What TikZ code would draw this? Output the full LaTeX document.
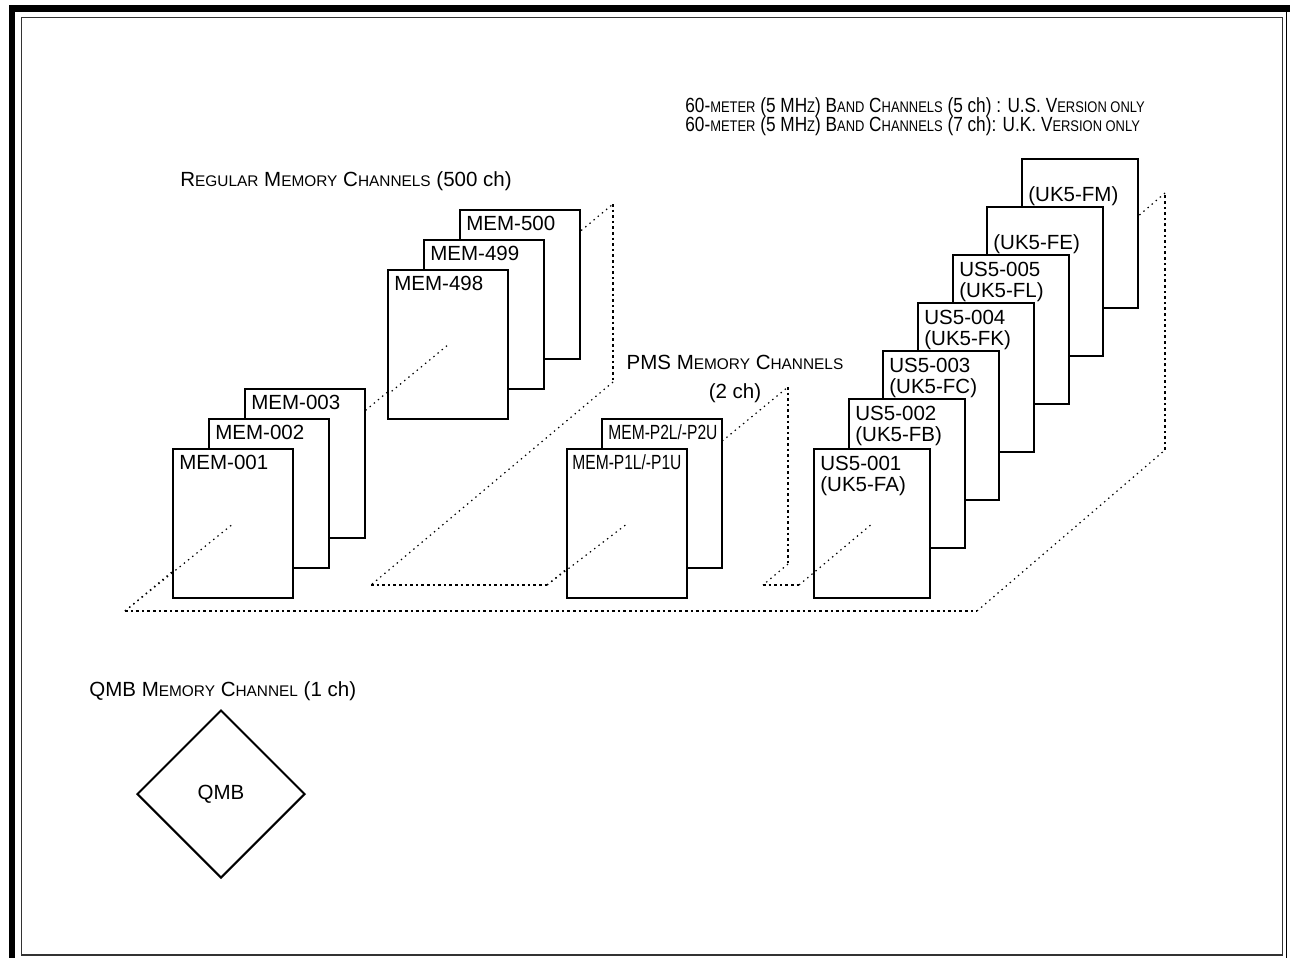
\documentclass[tikz,border=0pt]{standalone}
\usepackage{fontspec}
\setmainfont{Liberation Sans}
\usepackage{graphicx}
\usetikzlibrary{shapes.geometric}

\newcommand{\chsc}[1]{{\fontsize{7.7pt}{9pt}\selectfont #1}}

\begin{document}
\fontsize{10.25pt}{12pt}\selectfont
\begin{tikzpicture}[x=0.5pt,y=-0.5pt,
  chbox/.style={draw,fill=white,line width=1.2pt,inner sep=0pt,anchor=north west,minimum width=60pt,minimum height=74.5pt},
  usbox/.style={chbox,minimum width=58pt},
  chtxt/.style={anchor=base west,inner sep=0pt},
  flat/.style={line width=0.7pt,dash pattern=on 1.3pt off 1.5pt},
  slant/.style={line width=0.6pt,dash pattern=on 0.7pt off 2pt}]
  \useasboundingbox (0,0) rectangle (1290,958);
  % frame
  \fill (9,5) rectangle (1290,12);
  \fill (9,5) rectangle (15,958);
  \draw[line width=0.7pt] (1286.5,12) -- (1286.5,958);
  \draw[line width=0.7pt,black!80] (21.5,17.5) rectangle (1282.5,955);

  \coordinate (S1) at (125,611);
  \coordinate (T1) at (613,204);
  \coordinate (B1) at (613,382);
  \coordinate (F1) at (371,585);
  \coordinate (S2) at (547,585);
  \coordinate (T2) at (788,387);
  \coordinate (B2) at (788,564);
  \coordinate (F2) at (763,585);
  \coordinate (S3) at (799,585);
  \coordinate (T3) at (1165,193);
  \coordinate (B3) at (1165,450);
  \coordinate (F3) at (977,611);

  % dotted floor and walls
  \draw[flat] (S1) -- (F3);
  \draw[slant] (F3) -- (B3);
  \draw[flat] (B3) -- (T3);
  \draw[slant] (T3) -- (1100,249);
  \draw[slant] (S1) -- (T1);
  \draw[flat] (T1) -- (B1);
  \draw[slant] (B1) -- (F1);
  \draw[flat] (F1) -- (S2);
  \draw[slant] (S2) -- (T2);
  \draw[flat] (T2) -- (B2);
  \draw[slant] (B2) -- (F2);
  \draw[flat] (F2) -- (S3);

  % regular memory
  \foreach \n/\x/\y/\t in {m500/459/209/MEM-500,m499/423/239/MEM-499,m498/387/269/MEM-498,
                           m003/244/388/MEM-003,m002/208/418/MEM-002,m001/172/448/MEM-001} {
    \node[chbox] (\n) at (\x,\y) {};
    \node[chtxt] at ([shift={(7,21)}]\n.north west) {\t};
  }
  % pms
  \node[chbox] (p2) at (601,418) {};
  \node[chtxt] at ([shift={(7,21)}]p2.north west) {\scalebox{0.76}[1]{MEM-P2L/-P2U}};
  \node[chbox] (p1) at (566,448) {};
  \node[chtxt] at ([shift={(6,21)}]p1.north west) {\scalebox{0.76}[1]{MEM-P1L/-P1U}};
  % 60 m band
  \foreach \n/\x/\y/\us/\uk in {u7/1021/158//(UK5-FM),u6/986/206//(UK5-FE),
                                u5/952/254/US5-005/(UK5-FL),u4/917/302/US5-004/(UK5-FK),
                                u3/882/350/US5-003/(UK5-FC),u2/848/398/US5-002/(UK5-FB),
                                u1/813/448/US5-001/(UK5-FA)} {
    \node[usbox] (\n) at (\x,\y) {};
    \node[chtxt] at ([shift={(7,22)}]\n.north west) {\us};
    \node[chtxt] at ([shift={(7,43)}]\n.north west) {\uk};
  }

  % front dots
  \draw[slant] (S1) -- (m001.center);
  \begin{scope}
    \clip (m498.north west) rectangle (m498.south east);
    \draw[slant] (S1) -- (m498.center);
  \end{scope}
  \draw[slant] (S2) -- (p1.center);
  \draw[slant] (S3) -- (u1.center);

  % titles
  \node[chtxt] (reg) at (180,186) {R\chsc{EGULAR} M\chsc{EMORY} C\chsc{HANNELS} (500 ch)};
  \node[anchor=base,inner sep=0pt] (pms) at (735,369) {PMS M\chsc{EMORY} C\chsc{HANNELS}};
  \node[anchor=base,inner sep=0pt] (pmsch) at (735,398) {(2 ch)};
  \node[chtxt] (us) at (685,112) {\scalebox{0.84}[1]{60-\chsc{METER} (5 MH\chsc{Z}) B\chsc{AND} C\chsc{HANNELS} (5 ch) : U.S. V\chsc{ERSION ONLY}}};
  \node[chtxt] (uk) at (685,131) {\scalebox{0.84}[1]{60-\chsc{METER} (5 MH\chsc{Z}) B\chsc{AND} C\chsc{HANNELS} (7 ch): U.K. V\chsc{ERSION ONLY}}};

  % qmb
  \node[chtxt] (qmbt) at (89,696) {QMB M\chsc{EMORY} C\chsc{HANNEL} (1 ch)};
  \node[draw,shape=diamond,line width=1pt,minimum width=84pt,minimum height=84pt,inner sep=0pt] (qmb) at (221,794) {QMB};
\end{tikzpicture}
\end{document}
